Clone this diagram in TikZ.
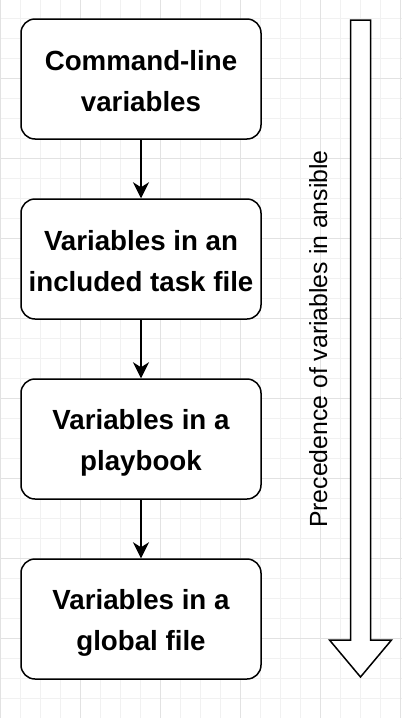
\documentclass[tikz,border=0pt]{standalone}
\usepackage{fontspec}
\setmainfont{Liberation Sans}
\usetikzlibrary{arrows.meta}
\definecolor{gridminor}{HTML}{F1F1F1}
\definecolor{gridmajor}{HTML}{E2E2E2}
\newcommand{\lnstrut}{\rule[-3pt]{0pt}{30pt}}
\tikzset{
  stepbox/.style={draw=black, line width=1.5pt, fill=white, rounded corners=14pt,
    minimum width=240pt, minimum height=120pt, inner sep=0pt, align=center,
    font=\fontsize{27.7}{41}\selectfont\bfseries},
  conn/.style={draw=black, line width=1.5pt, -{Stealth[length=16pt,width=16pt,inset=5pt]}},
  bigarrow/.style={draw=black, line width=1.5pt, fill=white, line join=miter},
  sidelabel/.style={font=\fontsize{24.8}{30}\selectfont, rotate=90, anchor=base, inner sep=0pt}
}
\begin{document}
\begin{tikzpicture}[x=1pt,y=-1pt]
\useasboundingbox (0,0) rectangle (402,718);
\fill[white] (0,0) rectangle (402,718);
% grid
\foreach \i in {0,20,...,400} \draw[gridminor, line width=1pt] (\i,0) -- (\i,718);
\foreach \j in {18,38,...,718} \draw[gridminor, line width=1pt] (0,\j) -- (402,\j);
\foreach \i in {0,80,...,400} \draw[gridmajor, line width=1pt] (\i,0) -- (\i,718);
\foreach \j in {78,158,...,718} \draw[gridmajor, line width=1pt] (0,\j) -- (402,\j);
% boxes
\node[stepbox] (b1) at (141,79) {\lnstrut Command-line\\\lnstrut variables};
\node[stepbox] (b2) at (141,259) {\lnstrut Variables in an\\\lnstrut included task file};
\node[stepbox] (b3) at (141,439) {\lnstrut Variables in a\\\lnstrut playbook};
\node[stepbox] (b4) at (141,619) {\lnstrut Variables in a\\\lnstrut global file};
% connectors
\draw[conn] (b1.south) -- (b2.north);
\draw[conn] (b2.south) -- (b3.north);
\draw[conn] (b3.south) -- (b4.north);
% big arrow
\draw[bigarrow] (350.5,20) -- (370.5,20) -- (370.5,640) -- (391.5,640) -- (360.5,677) -- (329.5,640) -- (350.5,640) -- cycle;
\node[sidelabel] (lbl) at (327,339) {Precedence of variables in ansible};
\end{tikzpicture}
\end{document}
